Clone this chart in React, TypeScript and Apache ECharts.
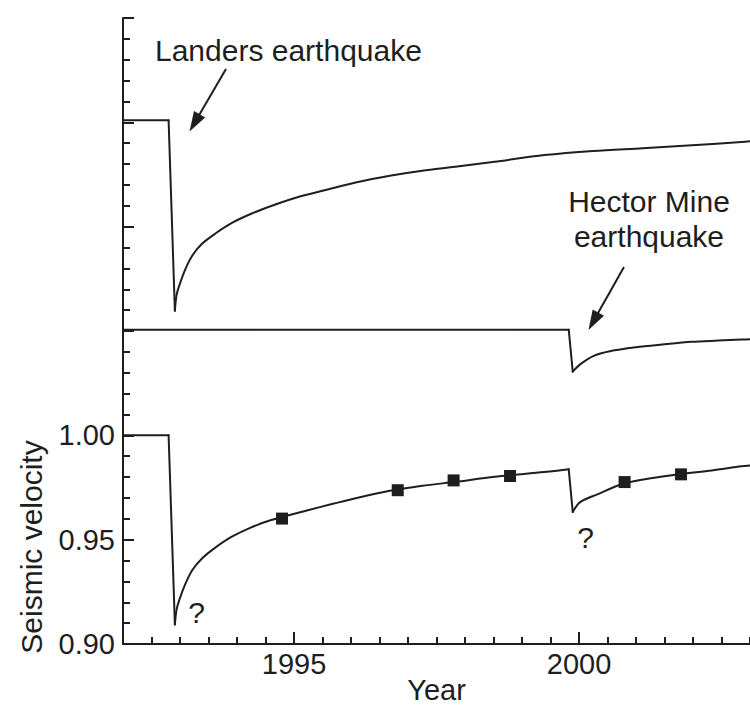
import React, { useEffect, useRef } from "react";
import * as echarts from "echarts";

// Landers-only recovery model (drawn offset above the combined curve)
const landersYears = [1992.0, 1992.8, 1992.91, 1992.94, 1992.99, 1993.1, 1993.22, 1993.39, 1993.62, 1993.91, 1994.25, 1994.66, 1995.06, 1995.52, 1996.1, 1996.68, 1997.25, 1997.83, 1998.52, 1999.39, 2000.25, 2001.12, 2001.98, 2002.85, 2003.0];
const landersValues = [1.151, 1.151, 1.0597, 1.0673, 1.072, 1.08, 1.0863, 1.0919, 1.0967, 1.1018, 1.1062, 1.1105, 1.1141, 1.1173, 1.1213, 1.1244, 1.1268, 1.1287, 1.1311, 1.1343, 1.1363, 1.1376, 1.139, 1.1406, 1.1409];

// Hector Mine-only recovery model
const hectorYears = [1992.0, 1999.82, 1999.89, 2000.02, 2000.25, 2000.54, 2001.0, 2001.46, 2001.98, 2002.44, 2002.85, 2003.0];
const hectorValues = [1.0506, 1.0506, 1.0305, 1.034, 1.038, 1.0403, 1.0422, 1.0435, 1.0448, 1.0454, 1.0459, 1.0461];

// Combined model of both earthquakes
const combinedYears = [1992.0, 1992.8, 1992.91, 1992.94, 1992.99, 1993.1, 1993.22, 1993.39, 1993.62, 1993.91, 1994.25, 1994.6, 1995.24, 1995.7, 1996.1, 1996.68, 1997.25, 1997.83, 1998.52, 1999.39, 1999.82, 1999.89, 2000.02, 2000.31, 2000.8, 2001.29, 2001.79, 2002.33, 2002.85, 2003.0];
const combinedValues = [1.0, 1.0, 0.9094, 0.9165, 0.9213, 0.9292, 0.9356, 0.9411, 0.9462, 0.9514, 0.9559, 0.9594, 0.9641, 0.9673, 0.97, 0.9734, 0.9758, 0.9777, 0.9801, 0.9824, 0.9837, 0.9633, 0.968, 0.9716, 0.977, 0.9796, 0.9815, 0.9832, 0.9852, 0.9856];

// Measured velocities
const obsYears = [1994.79, 1996.82, 1997.8, 1998.79, 2000.8, 2001.79];
const obsValues = [0.9601, 0.9737, 0.9784, 0.9805, 0.9776, 0.9813];

const xTickLabels = [1995, 2000];
const yTickLabels = [0.9, 0.95, 1.0];

const FONT = "'Liberation Sans', Arial, Helvetica, sans-serif";
const INK = "#1e1e1e";

const zip = (xs: number[], ys: number[]) => xs.map((x, i) => [x, ys[i]]);

// Split a model curve at its coseismic drops: the drops stay straight,
// the recovery stretches between them are drawn smooth.
function curveSeries(name: string, pts: number[][]) {
  const lineStyle = { color: INK, width: 2, cap: "round", join: "round" };
  const common = {
    type: "line",
    showSymbol: false,
    symbol: "none",
    lineStyle,
    itemStyle: { color: INK },
    xAxisIndex: 0,
    yAxisIndex: 0,
    z: 3,
    silent: true,
  };
  const out: any[] = [];
  let run: number[][] = [pts[0]];
  for (let i = 1; i < pts.length; i++) {
    const drop = pts[i][1] - pts[i - 1][1] < -0.01;
    if (drop) {
      out.push({ ...common, name, data: run, smooth: 0.3 });
      out.push({ ...common, name, data: [pts[i - 1], pts[i]], smooth: false });
      run = [pts[i]];
    } else {
      run.push(pts[i]);
    }
  }
  out.push({ ...common, name, data: run, smooth: 0.3 });
  return out;
}

function arrow(x1: number, y1: number, x2: number, y2: number) {
  const dx = x2 - x1;
  const dy = y2 - y1;
  const len = Math.hypot(dx, dy);
  const ux = dx / len;
  const uy = dy / len;
  const headLen = 20;
  const headHalf = 6.5;
  const bx = x2 - ux * headLen;
  const by = y2 - uy * headLen;
  return [
    {
      type: "line",
      shape: { x1, y1, x2: bx + ux * 2, y2: by + uy * 2 },
      style: { stroke: INK, lineWidth: 2 },
    },
    {
      type: "polygon",
      shape: {
        points: [
          [x2, y2],
          [bx + uy * headHalf, by - ux * headHalf],
          [bx - uy * headHalf, by + ux * headHalf],
        ],
      },
      style: { fill: INK },
    },
  ];
}

function label(text: string, x: number, y: number, align: string, extra: any = {}) {
  return {
    type: "text",
    x,
    y,
    ...extra,
    style: {
      text,
      fill: INK,
      font: `30px ${FONT}`,
      align,
      verticalAlign: "middle",
    },
  };
}

export default function App() {
  const ref = useRef<HTMLDivElement>(null);

  useEffect(() => {
    if (!ref.current) return;
    const chart = echarts.init(ref.current, null, { renderer: "svg" });

    chart.setOption({
      animation: false,
      backgroundColor: "#fff",
      grid: { left: 123, top: 18, width: 635.8, height: 630 },
      xAxis: [
        {
          type: "value",
          position: "bottom",
          min: 1992,
          max: 2003,
          interval: 0.5,
          axisLine: { show: true, lineStyle: { color: INK, width: 2 } },
          axisTick: { show: true, inside: true, length: 7, lineStyle: { color: INK, width: 2 } },
          axisLabel: { show: false },
          splitLine: { show: false },
          name: "Year",
          nameLocation: "middle",
          nameGap: 31,
          nameTextStyle: { color: INK, fontSize: 29, fontFamily: FONT },
        },
        {
          type: "value",
          position: "bottom",
          min: 1992,
          max: 2003,
          axisLine: { show: false },
          axisTick: {
            show: true,
            inside: true,
            length: 12,
            customValues: xTickLabels,
            lineStyle: { color: INK, width: 2 },
          },
          axisLabel: {
            show: true,
            customValues: xTickLabels,
            color: INK,
            fontSize: 29,
            fontFamily: FONT,
            margin: 5,
            formatter: (v: number) => String(Math.round(v)),
          },
          splitLine: { show: false },
        },
      ],
      yAxis: {
        type: "value",
        min: 0.9,
        max: 1.2,
        interval: 0.05,
        axisLine: { show: true, lineStyle: { color: INK, width: 2 } },
        axisTick: { show: true, inside: true, length: 11, lineStyle: { color: INK, width: 2 } },
        minorTick: { show: true, splitNumber: 5, length: 7, lineStyle: { color: INK, width: 2 } },
        axisLabel: {
          color: INK,
          fontSize: 29,
          fontFamily: FONT,
          margin: 8,
          formatter: (v: number) =>
            yTickLabels.some((t) => Math.abs(t - v) < 1e-6) ? v.toFixed(2) : "",
        },
        splitLine: { show: false },
      },
      series: [
        ...curveSeries("Landers", zip(landersYears, landersValues)),
        ...curveSeries("Hector Mine", zip(hectorYears, hectorValues)),
        ...curveSeries("Combined", zip(combinedYears, combinedValues)),
        {
          name: "Observed",
          type: "scatter",
          data: zip(obsYears, obsValues),
          symbol: "rect",
          symbolSize: 12,
          itemStyle: { color: INK, opacity: 1 },
          xAxisIndex: 0,
          yAxisIndex: 0,
          z: 4,
        },
      ],
      graphic: [
        label("Seismic velocity", 31, 547, "center", { rotation: Math.PI / 2 }),
        label("Landers earthquake", 155, 50, "left"),
        ...arrow(226, 69, 189.5, 131.5),
        label("Hector Mine", 649, 201, "center"),
        label("earthquake", 649, 236, "center"),
        ...arrow(624, 267, 588.5, 330),
        label("?", 196.5, 612, "center"),
        label("?", 585.5, 537.5, "center"),
      ],
    });

    return () => chart.dispose();
  }, []);

  return (
    <div
      ref={ref}
      style={{ position: "fixed", left: 0, top: 0, width: 750, height: 709, background: "#fff" }}
    />
  );
}
